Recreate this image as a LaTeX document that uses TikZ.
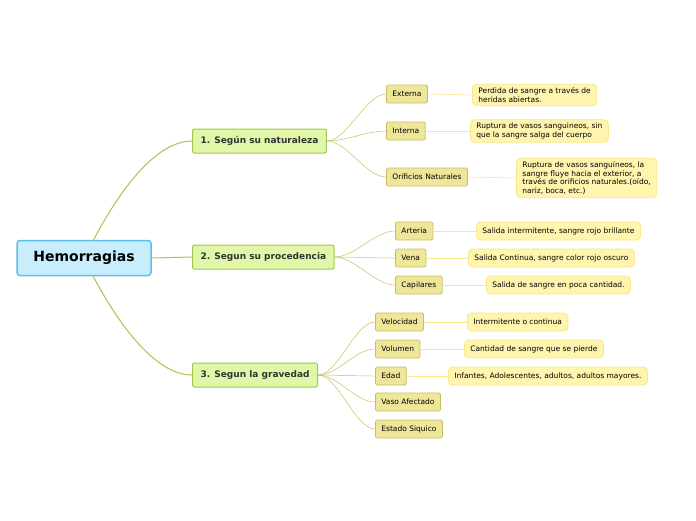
\documentclass[tikz,border=0pt]{standalone}
\usepackage{fontspec}
\setmainfont{DejaVu Sans}
\definecolor{rootfill}{HTML}{C8EDFC}
\definecolor{rootline}{HTML}{5BC0EB}
\definecolor{mainfill}{HTML}{E0F6A8}
\definecolor{mainline}{HTML}{A2C94A}
\definecolor{subfill}{HTML}{EEE799}
\definecolor{subline}{HTML}{C9BF62}
\definecolor{notefill}{HTML}{FFF5AE}
\definecolor{noteline}{HTML}{FAE68C}
\tikzset{
  rootbox/.style={draw=rootline,fill=rootfill,line width=1.5pt,rounded corners=3pt,
    minimum width=134pt,minimum height=35pt,font=\fontsize{14}{16}\selectfont\bfseries},
  mainbox/.style={draw=mainline,fill=mainfill,line width=1pt,rounded corners=2pt,anchor=west,
    minimum height=24pt,inner xsep=8pt,text=black!80,font=\fontsize{9}{11}\selectfont\bfseries},
  subbox/.style={draw=subline,fill=subfill,line width=0.8pt,rounded corners=1.5pt,anchor=west,
    minimum height=18pt,inner xsep=6pt,font=\fontsize{7.5}{9}\selectfont},
  notebox/.style={draw=noteline,fill=notefill,line width=0.8pt,rounded corners=4pt,anchor=west,
    minimum height=18pt,inner xsep=6pt,align=left,font=\fontsize{7.5}{8.6}\selectfont},
  mainlink/.style={draw=mainline,line width=1pt},
  sublink/.style={draw=subline,line width=0.5pt},
  notelink/.style={draw=noteline,line width=0.6pt}
}
\begin{document}
\begin{tikzpicture}[x=1pt,y=-1pt]
  \useasboundingbox (0,0) rectangle (696,520);
  \node[rootbox] (root) at (84,258) {Hemorragias};
  \node[mainbox] (nat) at (192,141) {1. Según su naturaleza};
  \node[mainbox] (pro) at (192,257) {2. Segun su procedencia};
  \node[mainbox] (gra) at (192,375) {3. Segun la gravedad};
  \draw[mainlink] (93,241) .. controls (125,180) and (160,141) .. (nat.west);
  \draw[mainlink] (root.east) -- (pro.west);
  \draw[mainlink] (93,276) .. controls (125,336) and (160,375) .. (gra.west);
  % naturaleza
  \node[subbox] (ext) at (386,94) {Externa};
  \node[subbox] (int) at (386,131) {Interna};
  \node[subbox] (ori) at (386,177) {Orificios Naturales};
  \node[notebox] (n1) at (472,95) {Perdida de sangre a través de\\heridas abiertas.};
  \node[notebox] (n2) at (470,131) {Ruptura de vasos sanguineos, sin\\que la sangre salga del cuerpo};
  \node[notebox] (n3) at (516,178) {Ruptura de vasos sanguíneos, la\\sangre fluye hacia el exterior, a\\través de orificios naturales.(oído,\\nariz, boca, etc.)};
  % procedencia
  \node[subbox] (art) at (395,231) {Arteria};
  \node[subbox] (ven) at (395,258) {Vena};
  \node[subbox] (cap) at (395,285) {Capilares};
  \node[notebox] (n4) at (476,231) {Salida intermitente, sangre rojo brillante};
  \node[notebox] (n5) at (468,258) {Salida Continua, sangre color rojo oscuro};
  \node[notebox] (n6) at (486,285) {Salida de sangre en poca cantidad.};
  % gravedad
  \node[subbox] (vel) at (375,322) {Velocidad};
  \node[subbox] (vol) at (375,349) {Volumen};
  \node[subbox] (eda) at (375,376) {Edad};
  \node[subbox] (vas) at (375,402) {Vaso Afectado};
  \node[subbox] (est) at (375,429) {Estado Siquico};
  \node[notebox] (n7) at (467,322) {Intermitente o continua};
  \node[notebox] (n8) at (464,349) {Cantidad de sangre que se pierde};
  \node[notebox] (n9) at (448,376) {Infantes, Adolescentes, adultos, adultos mayores.};
  \foreach \a/\b in {nat/ext,nat/int,nat/ori,pro/art,pro/ven,pro/cap,gra/vel,gra/vol,gra/eda,gra/vas,gra/est}
    \draw[sublink] (\a.east) .. controls +(20,0) and +(-20,0) .. (\b.west);
  \foreach \a/\b in {ext/n1,int/n2,ori/n3,art/n4,ven/n5,cap/n6,vel/n7,vol/n8,eda/n9}
    \draw[notelink] (\a.east) -- (\b.west);
\end{tikzpicture}
\end{document}
